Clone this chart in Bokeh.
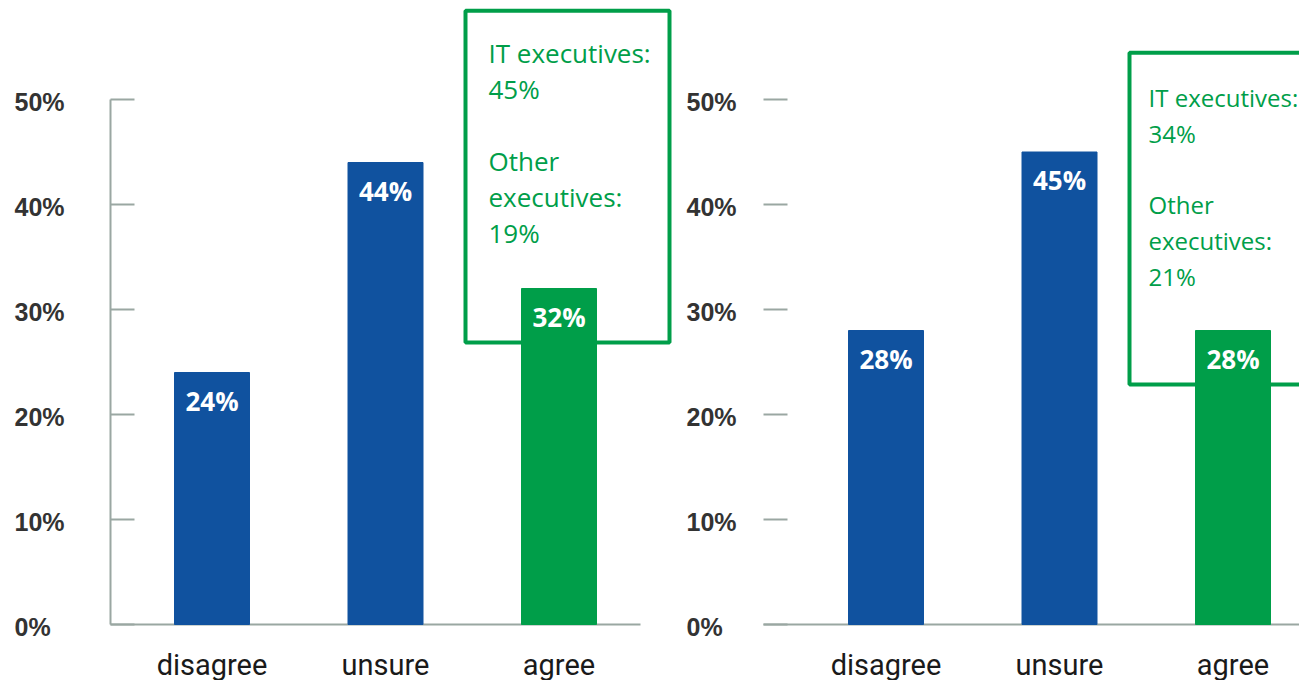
from bokeh.plotting import figure
from bokeh.layouts import row
from bokeh.models import Range1d, ColumnDataSource
from bokeh.core.properties import value
from bokeh.embed import file_html
from bokeh.resources import INLINE

# ---------------- data ----------------
categories = ["disagree", "unsure", "agree"]
left_values = [24, 44, 32]
right_values = [28, 45, 28]
bar_colors = ["#10529f", "#10529f", "#009e49"]
left_note = ["IT executives:", "45%", "", "Other", "executives:", "19%"]
right_note = ["IT executives:", "34%", "", "Other", "executives:", "21%"]
y_ticks = [0, 10, 20, 30, 40, 50]
y_tick_labels = ["0%", "10%", "20%", "30%", "40%", "50%"]

# ---------------- style ----------------
PX_PER_CAT = 173.5
PX_PER_PCT = 10.5
H = 680
BOTTOM_PX = 56
GREEN = "#009e49"
AXIS_GRAY = "#9aa7a2"
LABEL_DARK = "#333333"


def panel(values, note, width, first_center_px, axis_px, label_px,
          baseline_end_px, show_axis_line, box_left_px, note_size, note_dx, note_dy):
    x0 = -first_center_px / PX_PER_CAT
    x1 = x0 + width / PX_PER_CAT
    y0 = -BOTTOM_PX / PX_PER_PCT
    y1 = y0 + H / PX_PER_PCT
    p = figure(width=width, height=H, x_range=Range1d(x0, x1), y_range=Range1d(y0, y1),
               output_backend="svg", toolbar_location=None,
               x_axis_location=None, y_axis_location=None,
               min_border=0, min_border_left=0, min_border_right=0,
               min_border_top=0, min_border_bottom=0)
    p.outline_line_color = None
    p.grid.visible = False
    p.background_fill_color = "white"
    p.border_fill_color = "white"

    xs = list(range(len(categories)))
    axis_x = x0 + axis_px / PX_PER_CAT
    label_x = x0 + label_px / PX_PER_CAT
    tick_len = 24 / PX_PER_CAT

    # annotation box around the "agree" bar
    agree_i = len(categories) - 1
    agree_v = values[agree_i]
    bl = agree_i + box_left_px / PX_PER_CAT
    br = agree_i + 110.5 / PX_PER_CAT
    p.quad(left=[bl], right=[br], bottom=[agree_v - 5.15], top=[agree_v + 26.45],
           fill_color=None, line_color=GREEN, line_width=4)
    p.text(x=[bl], y=[agree_v + 26.45], text=["\n".join(note)],
           x_offset=note_dx, y_offset=note_dy, text_baseline="top", text_align="left",
           text_font=value("Open Sans"), text_font_size=f"{note_size}px", text_color=GREEN,
           text_line_height=35.5 / (note_size * 1.362))

    # axis pieces
    base_end = x1 if baseline_end_px is None else x0 + baseline_end_px / PX_PER_CAT
    p.segment(x0=[axis_x], y0=[0], x1=[base_end], y1=[0], line_color=AXIS_GRAY, line_width=2)
    if show_axis_line:
        p.segment(x0=[axis_x], y0=[0], x1=[axis_x], y1=[max(y_ticks)],
                  line_color=AXIS_GRAY, line_width=2)
    p.segment(x0=[axis_x] * len(y_ticks), y0=y_ticks,
              x1=[axis_x + tick_len] * len(y_ticks), y1=y_ticks,
              line_color=AXIS_GRAY, line_width=2)
    p.text(x=[label_x] * len(y_ticks), y=y_ticks, text=y_tick_labels,
           text_align="left", text_baseline="middle", y_offset=2,
           text_font=value("Liberation Sans"), text_font_style="bold",
           text_font_size="25px", text_color=LABEL_DARK)

    # bars
    src = ColumnDataSource(dict(x=xs, top=values, color=bar_colors,
                                label=[f"{v}%" for v in values], cat=categories))
    p.vbar(x="x", top="top", bottom=0, width=75 / PX_PER_CAT, color="color", source=src)
    p.text(x="x", y="top", text="label", source=src, y_offset=28,
           text_align="center", text_baseline="middle",
           text_font=value("Open Sans"), text_font_style="bold",
           text_font_size="26px", text_color="#ffffff")
    # category labels
    p.text(x="x", y=0, text="cat", source=src, y_offset=40,
           text_align="center", text_baseline="middle",
           text_font=value("Roboto"), text_font_size="29px", text_color="#1a1a1a")
    return p


left = panel(left_values, left_note, width=672, first_center_px=211.5, axis_px=110,
             label_px=14, baseline_end_px=640, show_axis_line=True, box_left_px=-93.5,
             note_size=26, note_dx=23, note_dy=24)
right = panel(right_values, right_note, width=627, first_center_px=213.5, axis_px=91,
              label_px=14, baseline_end_px=None, show_axis_line=False, box_left_px=-103.5,
              note_size=24, note_dx=19, note_dy=28)

layout = row(left, right)
open("out.html", "w").write(file_html(layout, INLINE))
